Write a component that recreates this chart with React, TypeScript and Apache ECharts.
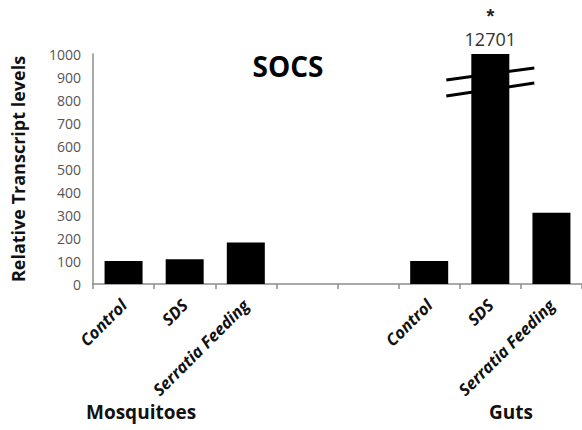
import React, { useEffect, useRef } from "react";
import * as echarts from "echarts";

const categories = ["Control", "SDS", "Serratia Feeding", "", "", "Control", "SDS", "Serratia Feeding"];
const mosquitoValues = [100, 108, 180];
const gutValues = [100, 12701, 310];
const yTicks = [0, 100, 200, 300, 400, 500, 600, 700, 800, 900, 1000];
const axisMax = 1000;
const breakMarks = [
  [887, 939],
  [817, 874],
];

export default function App() {
  const ref = useRef<HTMLDivElement>(null);
  useEffect(() => {
    document.body.style.margin = "0";
    const chart = echarts.init(ref.current!, null, { renderer: "svg" });
    const raw: (number | null)[] = [...mosquitoValues, null, null, ...gutValues];
    const data = raw.map((v) => {
      if (v === null) return null;
      const shown = Math.min(v, axisMax);
      if (v > axisMax) {
        return {
          value: shown,
          label: {
            show: true,
            position: "top",
            distance: 4,
            formatter: () => "{star|*}\n{num|" + v + "}",
            rich: {
              star: { fontSize: 20, fontWeight: "bold", color: "#222", fontFamily: "Liberation Sans", lineHeight: 24 },
              num: { fontSize: 18, color: "#333", fontFamily: "Open Sans", lineHeight: 22 },
            },
          },
        };
      }
      return shown;
    });
    chart.setOption({
      animation: false,
      grid: { left: 93, top: 54, width: 496, bottom: 146 },
      xAxis: {
        type: "category",
        data: categories,
        boundaryGap: true,
        axisLine: { lineStyle: { color: "#8c8c8c", width: 1.5 } },
        axisTick: { show: true, length: 5, lineStyle: { color: "#8c8c8c", width: 1.5 } },
        axisLabel: {
          interval: 0,
          rotate: 45,
          margin: 18,
          fontSize: 16.5,
          fontStyle: "italic",
          fontWeight: "bold",
          color: "#111",
          fontFamily: "Open Sans",
        },
      },
      yAxis: {
        type: "value",
        min: yTicks[0],
        max: yTicks[yTicks.length - 1],
        interval: 100,
        name: "Relative Transcript levels",
        nameLocation: "middle",
        nameRotate: 90,
        nameGap: 66,
        nameTextStyle: { fontSize: 18, fontWeight: "bold", color: "#111", fontFamily: "Open Sans" },
        splitLine: { show: false },
        axisLine: { show: true, lineStyle: { color: "#8c8c8c", width: 1.5 } },
        axisTick: { show: false },
        axisLabel: {
          fontSize: 14,
          color: "#555",
          margin: 12,
          fontFamily: "Open Sans",
          formatter: (v: number) => String(v),
        },
      },
      title: {
        text: "SOCS",
        left: 283,
        top: 47,
        textAlign: "center",
        textStyle: { fontSize: 28, fontWeight: "bold", color: "#000", fontFamily: "Open Sans" },
      },
      series: [
        {
          type: "bar",
          data,
          barWidth: 38,
          itemStyle: { color: "#000" },
        },
      ],
    });
    const xc = chart.convertToPixel({ xAxisIndex: 0 }, 6) as number;
    const lines = breakMarks.map(([a, b]) => {
      const y1 = chart.convertToPixel({ yAxisIndex: 0 }, a) as number;
      const y2 = chart.convertToPixel({ yAxisIndex: 0 }, b) as number;
      return {
        type: "line",
        shape: { x1: xc - 44, y1, x2: xc + 44, y2 },
        style: { stroke: "#000", lineWidth: 3 },
        z: 10,
      };
    });
    chart.setOption({
      graphic: [
        ...lines,
        {
          type: "text",
          left: 86,
          top: 402,
          style: { text: "Mosquitoes", fontSize: 19, fontWeight: "bold", fill: "#111", fontFamily: "Open Sans" },
        },
        {
          type: "text",
          left: 489,
          top: 402,
          style: { text: "Guts", fontSize: 19, fontWeight: "bold", fill: "#111", fontFamily: "Open Sans" },
        },
      ],
    });
    return () => chart.dispose();
  }, []);
  return <div ref={ref} style={{ width: 582, height: 430 }} />;
}
